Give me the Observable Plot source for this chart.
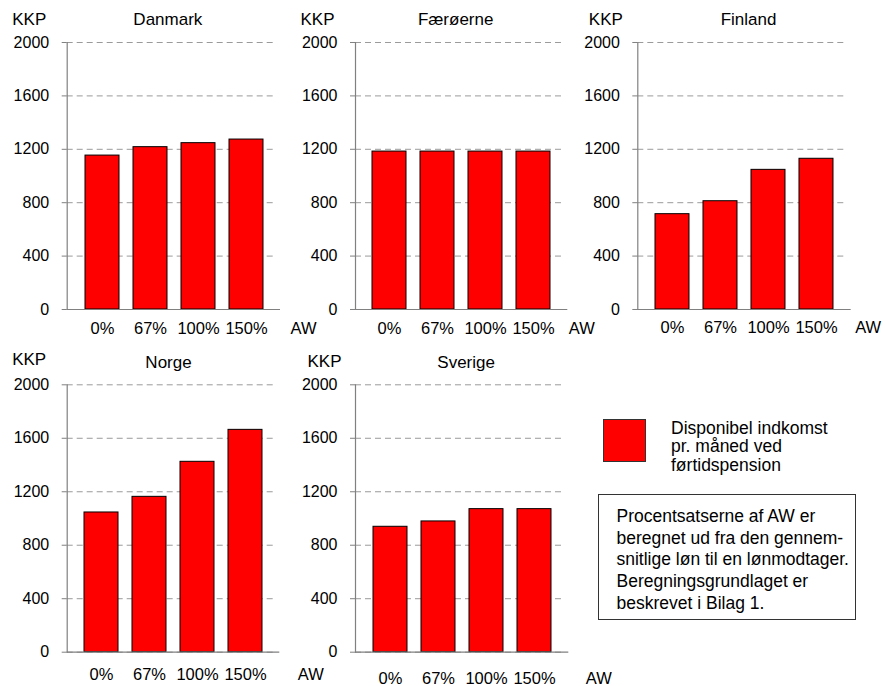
<!DOCTYPE html>
<html>
<head>
<meta charset="utf-8">
<script src="https://cdn.jsdelivr.net/npm/d3@7"></script>
<script src="https://cdn.jsdelivr.net/npm/@observablehq/plot@0.6"></script>
<style>
  html, body { margin: 0; padding: 0; background: #fff; }
  #chart { position: relative; width: 885px; height: 686px; font-family: "Liberation Sans", Arial, sans-serif; color: #000; overflow: hidden; }
  .panel { position: absolute; }
  .panel svg { overflow: visible; max-width: none !important; background: transparent !important; }
  #legend-swatch { position: absolute; background: #ff0000; border: 1px solid #333; box-sizing: border-box; }
  #legend-text { position: absolute; font-size: 17.5px; line-height: 18.3px; white-space: nowrap; }
  #note { position: absolute; border: 1px solid #333; box-sizing: border-box; font-size: 17.5px; line-height: 21.7px; white-space: nowrap; }
</style>
</head>
<body>
<div id="chart"></div>
<script>
// ---- data ----
const levels = ["0%", "67%", "100%", "150%"];
const titles = ["Danmark", "Færøerne", "Finland", "Norge", "Sverige"];
const valuesDanmark = [1153, 1216, 1246, 1273];
const valuesFaeroerne = [1183, 1183, 1183, 1183];
const valuesFinland = [714, 811, 1046, 1129];
const valuesNorge = [1045, 1162, 1424, 1663];
const valuesSverige = [938, 978, 1070, 1070];
const yTicks = [0, 400, 800, 1200, 1600, 2000];
const yUnit = "KKP";
const xUnit = "AW";
const legendLines = ["Disponibel indkomst", "pr. måned ved", "førtidspension"];
const noteLines = [
  "Procentsatserne af AW er",
  "beregnet ud fra den gennem-",
  "snitlige løn til en lønmodtager.",
  "Beregningsgrundlaget er",
  "beskrevet i Bilag 1."
];

const seriesValues = [valuesDanmark, valuesFaeroerne, valuesFinland, valuesNorge, valuesSverige];

// ---- layout (positions only) ----
const layout = [
  {left: 0,   top: 0,   axisX: 66.7,  frameRight: 280,   frameTop: 42,    frameBottom: 309,   titleDx: -6, titleDy: -22.5, kkpDx: -55, kkpDy: -23.3, tickPad: 13,   awDx: 10},
  {left: 290, top: 0,   axisX: 355,   frameRight: 567.3, frameTop: 42,    frameBottom: 309,   titleDx: -6, titleDy: -22.5, kkpDx: -55, kkpDy: -23.3, tickPad: 13,   awDx: 1},
  {left: 580, top: 0,   axisX: 637.3, frameRight: 850.7, frameTop: 42,    frameBottom: 309,   titleDx: 4,  titleDy: -22.5, kkpDx: -49, kkpDy: -23.3, tickPad: 12,   awDx: 4},
  {left: 0,   top: 340, axisX: 66.7,  frameRight: 279.3, frameTop: 384.3, frameBottom: 651.7, titleDx: -5, titleDy: -21.8, kkpDx: -55, kkpDy: -25,   tickPad: 16.5, awDx: 18},
  {left: 290, top: 340, axisX: 355,   frameRight: 568.3, frameTop: 384.3, frameBottom: 651.7, titleDx: 4,  titleDy: -22.6, kkpDx: -48, kkpDy: -23.5, tickPad: 20.5, awDx: 17}
];

const chart = document.getElementById("chart");

titles.forEach((title, i) => {
  const L = layout[i];
  const data = levels.map((level, j) => ({level, value: seriesValues[i][j]}));
  const W = L.frameRight - L.left + 50;
  const H = L.frameBottom - L.top + 34;
  const plot = Plot.plot({
    width: W,
    height: H,
    marginLeft: L.axisX - L.left,
    marginRight: W - (L.frameRight - L.left),
    marginTop: L.frameTop - L.top,
    marginBottom: H - (L.frameBottom - L.top),
    style: {fontFamily: "Liberation Sans, Arial, sans-serif", fontSize: "16px", color: "#000", background: "transparent", overflow: "visible", maxWidth: "none"},
    x: {type: "band", domain: levels, paddingInner: 0.3, paddingOuter: 0.34},
    y: {domain: [0, 2000]},
    marks: [
      Plot.gridY(yTicks, {stroke: "#9a9a9a", strokeOpacity: 1, strokeDasharray: "6,4", insetRight: 5}),
      Plot.barY(data, {x: "level", y: "value", fill: "#ff0000", stroke: "#000", strokeWidth: 1}),
      Plot.ruleY([0], {stroke: "#808080", strokeWidth: 1.2}),
      Plot.frame({anchor: "left", stroke: "#808080", strokeWidth: 1.2}),
      Plot.axisY(yTicks, {tickSize: 5, tickPadding: 13, stroke: "#808080", fill: "#000", fontSize: 16, tickFormat: d => String(d), label: null}),
      Plot.axisX({tickSize: 0, tickPadding: L.tickPad, fill: "#000", fontSize: 16.5, label: null}),
      Plot.text([title], {text: d => d, frameAnchor: "top", lineAnchor: "middle", dx: L.titleDx, dy: L.titleDy, fontSize: 17, fill: "#000"}),
      Plot.text([yUnit], {text: d => d, frameAnchor: "top-left", lineAnchor: "middle", textAnchor: "start", dx: L.kkpDx, dy: L.kkpDy, fontSize: 17, fill: "#000"}),
      Plot.text([xUnit], {text: d => d, frameAnchor: "bottom-right", textAnchor: "start", lineAnchor: "top", dx: L.awDx, dy: L.tickPad, fontSize: 16.5, fill: "#000"})
    ]
  });
  const div = document.createElement("div");
  div.className = "panel";
  div.style.left = L.left + "px";
  div.style.top = L.top + "px";
  div.style.width = W + "px";
  div.style.height = H + "px";
  div.appendChild(plot);
  chart.appendChild(div);
});

// legend
const sw = document.createElement("div");
sw.id = "legend-swatch";
Object.assign(sw.style, {left: "603px", top: "419px", width: "43px", height: "43px"});
chart.appendChild(sw);

const lt = document.createElement("div");
lt.id = "legend-text";
Object.assign(lt.style, {left: "671px", top: "419px"});
lt.innerHTML = legendLines.join("<br>");
chart.appendChild(lt);

// note box
const note = document.createElement("div");
note.id = "note";
Object.assign(note.style, {left: "597.5px", top: "494px", width: "258.5px", height: "125.5px", paddingLeft: "18px", paddingTop: "11px"});
note.innerHTML = noteLines.join("<br>");
chart.appendChild(note);
</script>
</body>
</html>
